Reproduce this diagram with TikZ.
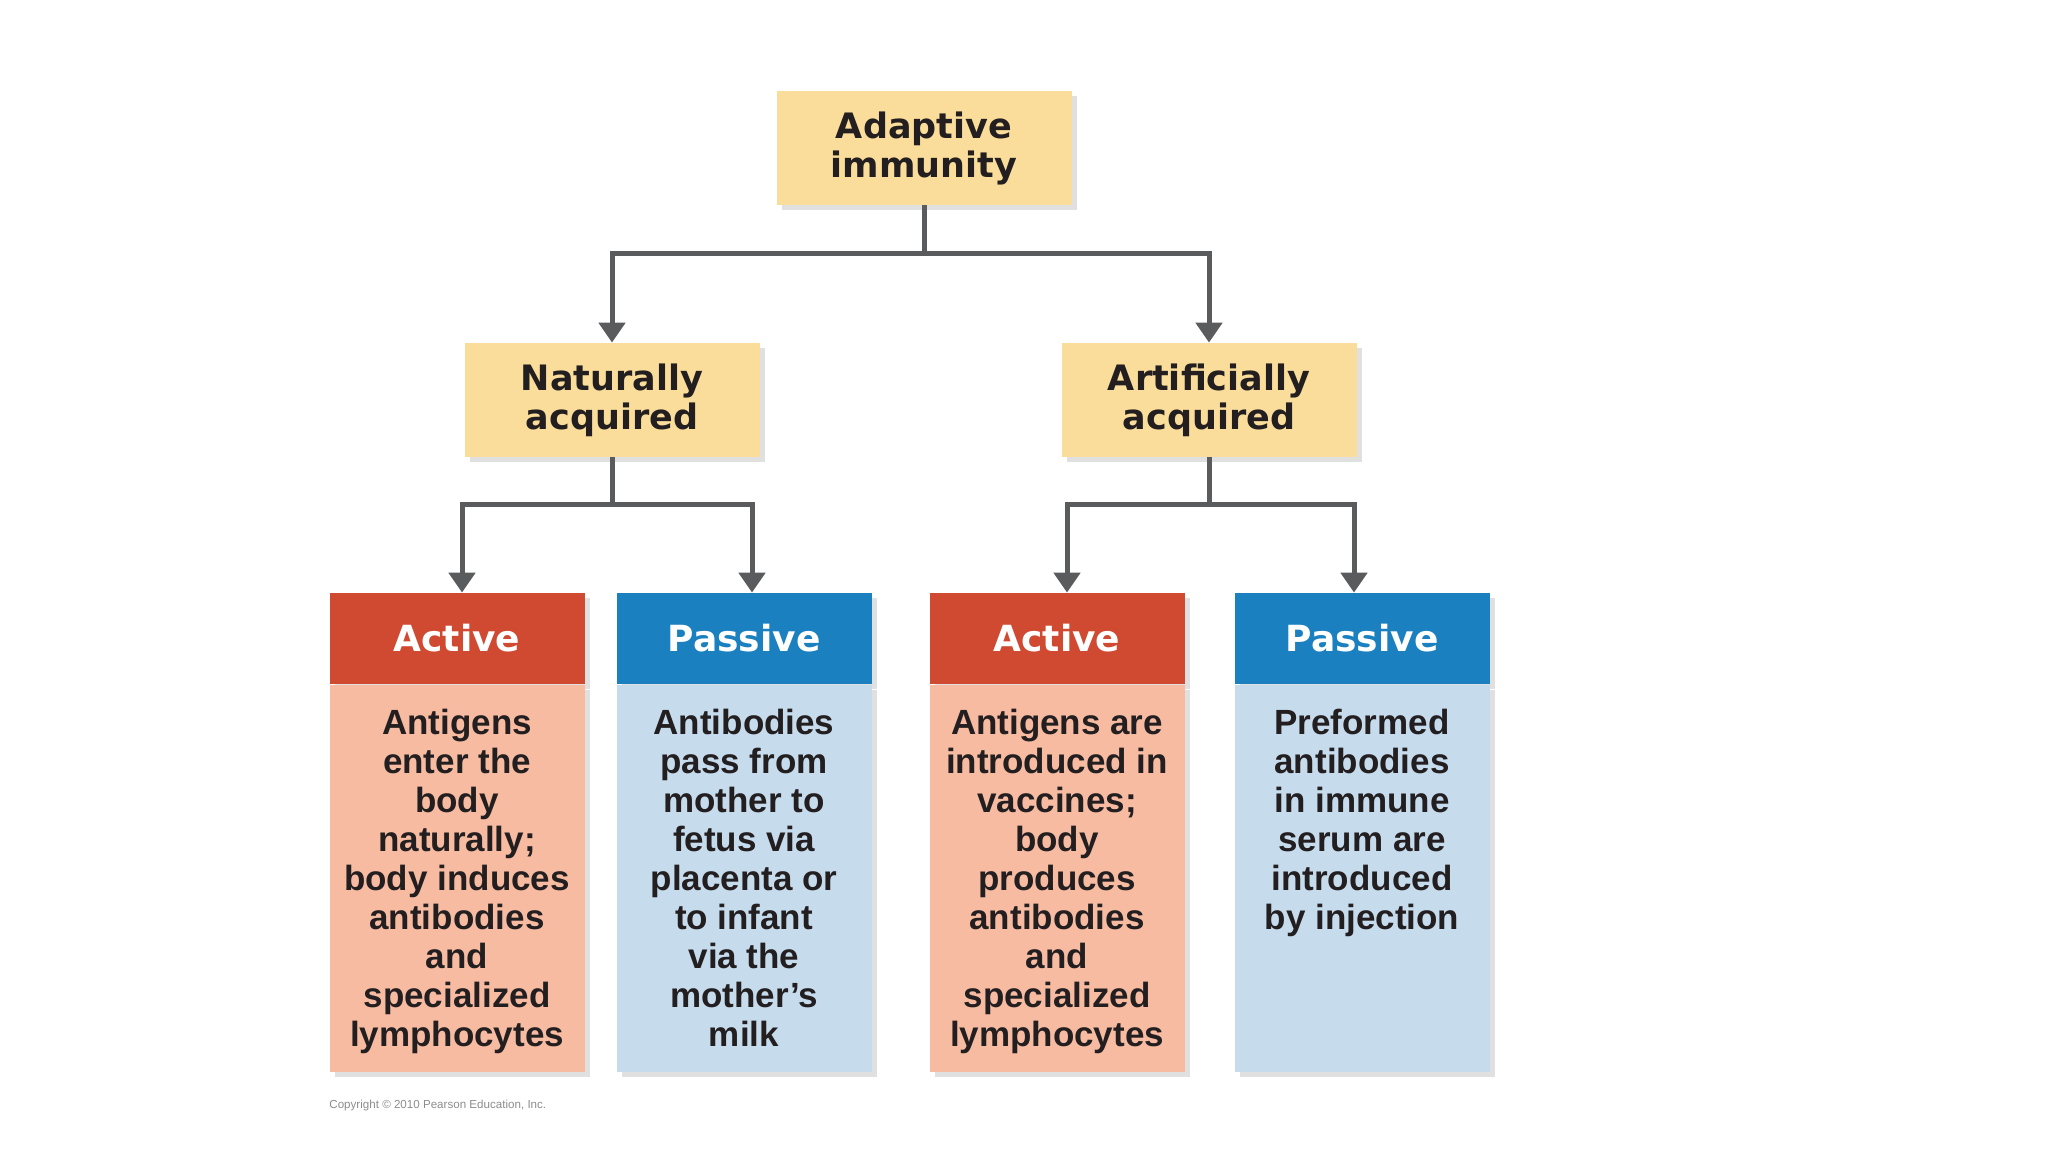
\documentclass[tikz,border=0pt]{standalone}
\usepackage{fontspec}
\setmainfont{Liberation Sans}
\newfontfamily\headfont{DejaVu Sans}
\usepackage{xcolor}
\usepackage{tikz}
\usetikzlibrary{arrows.meta,positioning,shadows}
\definecolor{sand}{HTML}{FADD9A}
\definecolor{brick}{HTML}{CF4A31}
\definecolor{salmon}{HTML}{F7BBA2}
\definecolor{ocean}{HTML}{1A80BF}
\definecolor{sky}{HTML}{C6DBEC}
\definecolor{arrowgray}{HTML}{5A5B5D}
\definecolor{ink}{HTML}{231F20}

\begin{document}
\begin{tikzpicture}[x=0.5pt,y=-0.5pt,>={Triangle[width=13pt,length=10pt]},
  shade/.style={drop shadow={shadow xshift=2.5pt,shadow yshift=-2.5pt,opacity=0.12,fill=black}},
  topbox/.style={fill=sand,align=center,minimum width=147.5pt,minimum height=57pt,inner sep=0pt,text=ink,font=\headfont\bfseries\fontsize{17.5}{19.5}\selectfont,shade},
  headbox/.style={minimum width=127.5pt,minimum height=45.5pt,inner sep=0pt,text=white,font=\headfont\bfseries\fontsize{18}{20}\selectfont,shade},
  bodybox/.style={minimum width=127.5pt,minimum height=193.5pt,inner sep=0pt,shade},
  bodytext/.style={align=center,inner sep=0pt,text=ink,font=\bfseries\fontsize{17.5}{19.5}\selectfont},
  link/.style={draw=arrowgray,line width=2.5pt}]
\useasboundingbox (0,0) rectangle (2048,1152);
\node[topbox] (adapt) at (924,148) {Adaptive\\immunity};
\node[topbox] (nat) at (612,400) {Naturally\\acquired};
\node[topbox] (art) at (1209,400) {Artificially\\acquired};
% headers
\node[headbox,fill=brick] (act1) at (457,638.5) {Active};
\node[headbox,fill=ocean] (pas1) at (744,638.5) {Passive};
\node[headbox,fill=brick] (act2) at (1057,638.5) {Active};
\node[headbox,fill=ocean] (pas2) at (1362,638.5) {Passive};
% bodies
\node[bodybox,fill=salmon,below=0pt of act1] (actbody1) {};
\node[bodybox,fill=sky,below=0pt of pas1] (pasbody1) {};
\node[bodybox,fill=salmon,below=0pt of act2] (actbody2) {};
\node[bodybox,fill=sky,below=0pt of pas2] (pasbody2) {};
\node[bodytext,below=12pt of actbody1.north] (acttext1) {Antigens\\enter the\\body\\naturally;\\body induces\\antibodies\\and\\specialized\\lymphocytes};
\node[bodytext,below=12pt of pasbody1.north] (pastext1) {Antibodies\\pass from\\mother to\\fetus via\\placenta or\\to infant\\via the\\mother's\\milk};
\node[bodytext,below=12pt of actbody2.north] (acttext2) {Antigens are\\introduced in\\vaccines;\\body\\produces\\antibodies\\and\\specialized\\lymphocytes};
\node[bodytext,below=12pt of pasbody2.north] (pastext2) {Preformed\\antibodies\\in immune\\serum are\\introduced\\by injection};
% connectors
\coordinate (fork0) at (924,253);
\coordinate (fork1) at (612,504);
\coordinate (fork2) at (1209,504);
\draw[link] (adapt) -- (fork0);
\draw[link,->] (fork0) -| (nat);
\draw[link,->] (fork0) -| (art);
\draw[link] (nat) -- (fork1);
\draw[link,->] (fork1) -| ([xshift=2.5pt]act1.north);
\draw[link,->] (fork1) -| ([xshift=4pt]pas1.north);
\draw[link] (art) -- (fork2);
\draw[link,->] (fork2) -| ([xshift=5pt]act2.north);
\draw[link,->] (fork2) -| ([xshift=-4pt]pas2.north);
\node[anchor=west,inner sep=0pt,text=black!45,font=\fontsize{5.8}{6.5}\selectfont] (copy) at (329,1105) {Copyright \textcopyright\ 2010 Pearson Education, Inc.};
\end{tikzpicture}
\end{document}
